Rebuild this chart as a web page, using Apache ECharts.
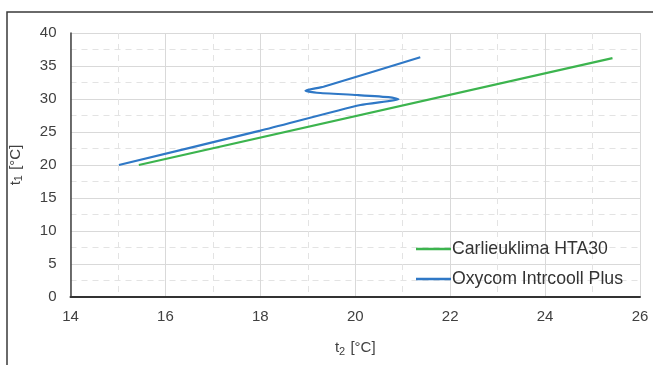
<!DOCTYPE html>
<html>
<head>
<meta charset="utf-8">
<script src="https://cdn.jsdelivr.net/npm/echarts@6/dist/echarts.min.js"></script>
<style>
  html, body { margin: 0; padding: 0; background: #fff; }
  #chart { width: 653px; height: 365px; }
</style>
</head>
<body>
<div id="chart"></div>
<script>
// t2 [°C], t1 [°C] pairs
const carlieuklima = [[15.44, 20.0], [25.42, 36.2]]
const oxycom = [
  [15.02, 20.0], [18.0, 25.2], [20.11, 29.09], [20.91, 29.97], [20.74, 30.26],
  [20.04, 30.61], [19.19, 30.95], [18.95, 31.26], [19.33, 31.86], [21.37, 36.32]
]

const seriesNames = ['Carlieuklima HTA30', 'Oxycom Intrcooll Plus']
const seriesColors = ['#3cb44e', '#2f78c6']

const xTicks = { min: 14, max: 26, step: 2 }
const yTicks = { min: 0, max: 40, step: 5 }

const chart = echarts.init(document.getElementById('chart'))

const axisFont = 'Liberation Sans, Arial, sans-serif'
const nameRich = {
  t: { color: '#404040', fontSize: 15, fontFamily: axisFont },
  s: { color: '#404040', fontSize: 11, fontFamily: axisFont, padding: [7, 1, 0, 0] }
}

chart.setOption({
  animation: false,
  color: seriesColors,
  grid: { left: 70, right: 13, top: 33, bottom: 68, containLabel: false },
  graphic: [
    {
      type: 'polyline',
      shape: { points: [[7, 365], [7, 12], [653, 12]] },
      style: { stroke: '#3a3a3a', lineWidth: 1.5, fill: null },
      silent: true
    }
  ],
  legend: {
    orient: 'vertical',
    left: 411,
    top: 235,
    icon: 'rect',
    itemWidth: 35,
    itemHeight: 2.5,
    itemGap: 12,
    textStyle: { color: '#333', fontSize: 17.7, fontFamily: axisFont, padding: [0, 0, 0, -4] },
    data: seriesNames
  },
  xAxis: {
    type: 'value',
    min: xTicks.min,
    max: xTicks.max,
    interval: xTicks.step,
    name: '{t|t}{s|2}{t| [°C]}',
    nameLocation: 'middle',
    nameGap: 42,
    nameTextStyle: { rich: nameRich },
    axisLine: { show: true, onZero: false, lineStyle: { color: '#333', width: 2 } },
    axisTick: { show: false },
    axisLabel: { color: '#404040', fontSize: 15, fontFamily: axisFont, margin: 12 },
    splitLine: { show: true, lineStyle: { color: '#d9d9d9', width: 1 } },
    minorTick: { show: false, splitNumber: 2 },
    minorSplitLine: { show: true, lineStyle: { color: '#e3e3e3', type: [6, 5], width: 1 } }
  },
  yAxis: {
    type: 'value',
    min: yTicks.min,
    max: yTicks.max,
    interval: yTicks.step,
    name: '{t|t}{s|1}{t| [°C]}',
    nameLocation: 'middle',
    nameGap: 46,
    nameTextStyle: { rich: nameRich },
    axisLine: { show: true, lineStyle: { color: '#404040', width: 1.5 } },
    axisTick: { show: false },
    axisLabel: { color: '#404040', fontSize: 15, fontFamily: axisFont, margin: 14 },
    splitLine: { show: true, lineStyle: { color: '#d9d9d9', width: 1 } },
    minorTick: { show: false, splitNumber: 2 },
    minorSplitLine: { show: true, lineStyle: { color: '#e3e3e3', type: [6, 5], width: 1 } }
  },
  series: [
    {
      name: seriesNames[0],
      type: 'line',
      data: carlieuklima,
      symbol: 'none',
      lineStyle: { width: 2.2 },
      z: 3
    },
    {
      name: seriesNames[1],
      type: 'line',
      data: oxycom,
      symbol: 'none',
      smooth: 0.2,
      lineStyle: { width: 2.2 },
      z: 4
    }
  ]
})
</script>
</body>
</html>
